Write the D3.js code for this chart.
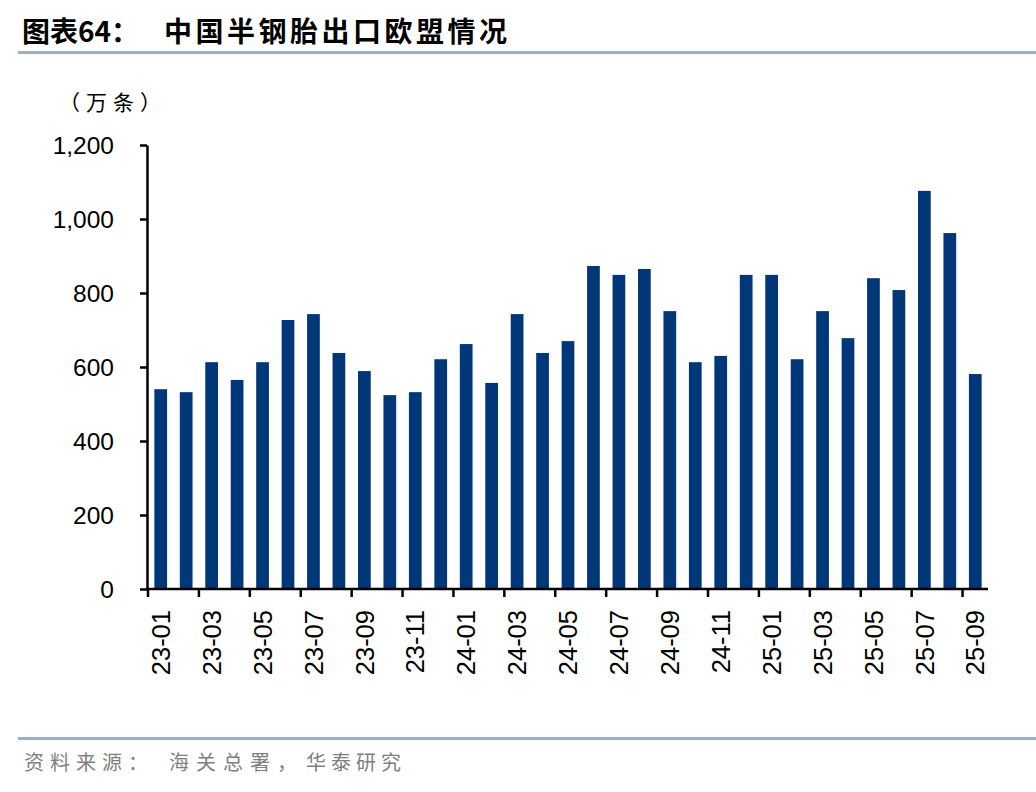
<!DOCTYPE html>
<html>
<head>
<meta charset="utf-8">
<script src="https://cdn.jsdelivr.net/npm/d3@7"></script>
<style>
  html, body { margin: 0; padding: 0; background: #fff; }
  svg { display: block; }
</style>
</head>
<body>
<svg id="chart" width="1036" height="792"></svg>
<script>
const categories = ["23-01","23-02","23-03","23-04","23-05","23-06","23-07","23-08","23-09","23-10","23-11","23-12",
  "24-01","24-02","24-03","24-04","24-05","24-06","24-07","24-08","24-09","24-10","24-11","24-12",
  "25-01","25-02","25-03","25-04","25-05","25-06","25-07","25-08","25-09"];
const values = [540,532,613,565,613,727,743,638,589,524,532,621,
  662,557,743,638,670,873,849,865,751,613,630,849,
  849,621,751,678,840,808,1076,962,581];
const yTicks = [0,200,400,600,800,1000,1200];
const xTickLabels = categories.filter((d, i) => i % 2 === 0);

const titlePrefix = "图表64：";
const titleMain = "中国半钢胎出口欧盟情况";
const unitLabel = "（万条）";
const sourceParts = ["资料来源：", "海关总署，", "华泰研究"];

const svg = d3.select("#chart");
const cjk = "'Noto Sans CJK SC', 'Noto Sans', sans-serif";
const latin = "'Liberation Sans', Arial, sans-serif";

// Title
svg.append("text").attr("x", 22).attr("y", 42)
  .attr("font-family", cjk).attr("font-size", 28).attr("font-weight", "bold").attr("fill", "#000")
  .text(titlePrefix);
svg.append("text").attr("x", 164).attr("y", 42)
  .attr("font-family", cjk).attr("font-size", 28).attr("font-weight", "bold").attr("fill", "#000")
  .attr("letter-spacing", 3.5)
  .text(titleMain);
svg.append("rect").attr("x", 18).attr("y", 51).attr("width", 1018).attr("height", 3).attr("fill", "#9AB0C8");

// Unit
svg.append("text").attr("x", 59).attr("y", 110)
  .attr("font-family", cjk).attr("font-size", 21).attr("fill", "#000")
  .attr("letter-spacing", 6)
  .text(unitLabel);

// Scales
const x = d3.scaleBand().domain(categories).range([148, 988]).paddingInner(0.5).paddingOuter(0.25);
const y = d3.scaleLinear().domain([0, 1200]).range([589, 145]);

// Bars
svg.append("g").selectAll("rect").data(values).join("rect")
  .attr("x", (d, i) => x(categories[i]))
  .attr("width", x.bandwidth())
  .attr("y", d => y(d))
  .attr("height", d => y(0) - y(d))
  .attr("fill", "#003778");

// Y axis
const yAxis = svg.append("g").attr("transform", "translate(147,0)")
  .call(d3.axisLeft(y).tickValues(yTicks).tickSize(7).tickSizeOuter(0).tickFormat(d3.format(",")));
yAxis.select(".domain").attr("stroke", "#000").attr("stroke-width", 2.5);
yAxis.selectAll(".tick line").attr("stroke", "#000").attr("stroke-width", 2.5);
yAxis.selectAll(".tick text").attr("font-family", latin).attr("font-size", 24.5).attr("fill", "#000")
  .attr("x", -33).attr("dy", "0.36em");

// X axis: ticks at left boundary of every other category
const step = x.step();
const xAxisG = svg.append("g").attr("transform", "translate(0,589)");
xAxisG.append("line").attr("x1", 146).attr("x2", 988).attr("y1", 0).attr("y2", 0)
  .attr("stroke", "#000").attr("stroke-width", 2.5);
xAxisG.selectAll("line.tk").data(xTickLabels).join("line").attr("class", "tk")
  .attr("x1", d => x(d) - step * 0.25).attr("x2", d => x(d) - step * 0.25)
  .attr("y1", 0).attr("y2", 8)
  .attr("stroke", "#000").attr("stroke-width", 2.5);
xAxisG.selectAll("text").data(xTickLabels).join("text")
  .attr("transform", d => `translate(${x(d) + x.bandwidth() / 2},21) rotate(-90)`)
  .attr("text-anchor", "end").attr("dy", "0.36em")
  .attr("font-family", latin).attr("font-size", 25.5).attr("fill", "#000")
  .text(d => d);

// Footer
svg.append("rect").attr("x", 18).attr("y", 737).attr("width", 1018).attr("height", 3).attr("fill", "#9AB0C8");
const srcX = [24, 169, 306];
const srcLs = [6, 7, 5];
sourceParts.forEach((s, i) => {
  svg.append("text").attr("x", srcX[i]).attr("y", 770)
    .attr("font-family", cjk).attr("font-size", 20).attr("fill", "#7F7F7F")
    .attr("letter-spacing", srcLs[i])
    .text(s);
});
</script>
</body>
</html>
